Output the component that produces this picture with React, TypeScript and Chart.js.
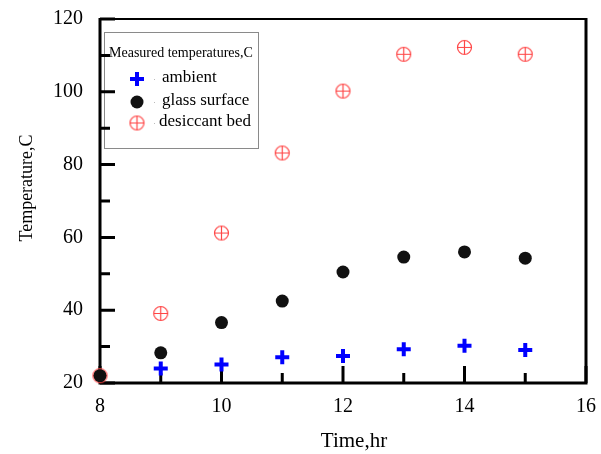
import { useEffect, useRef } from "react";
import { Chart, registerables } from "chart.js";

Chart.register(...registerables);

// ---- data ----
const hours = [8, 9, 10, 11, 12, 13, 14, 15];
const ambient = [null, 24.0, 25.1, 27.1, 27.4, 29.3, 30.2, 29.1];
const glassSurface = [22.0, 28.3, 36.6, 42.5, 50.5, 54.6, 56.0, 54.3];
const desiccantBed = [22.0, 39.1, 61.2, 83.2, 100.2, 110.3, 112.2, 110.3];

const seriesNames = ["ambient", "glass surface", "desiccant bed"];
const legendTitle = "Measured temperatures,C";
const xTitle = "Time,hr";
const yTitle = "Temperature,C";

const xMajorTicks = [8, 10, 12, 14, 16];
const xMinorTicks = [9, 11, 13, 15];
const yMajorTicks = [20, 40, 60, 80, 100, 120];
const yMinorTicks = [30, 50, 70, 90, 110];

const FONT = "'Liberation Serif', 'Times New Roman', serif";
const BLUE = "#0000ff";
const BLACK = "#111111";
const RED = "#ff4545";

function toPoints(values: (number | null)[]) {
  return hours.map((h, i) => ({ x: h, y: values[i] }));
}

function makeCrossCircle(): HTMLCanvasElement {
  const c = document.createElement("canvas");
  c.width = 17;
  c.height = 17;
  const g = c.getContext("2d")!;
  g.strokeStyle = RED;
  g.lineWidth = 1.2;
  g.beginPath();
  g.arc(8.5, 8.5, 7, 0, Math.PI * 2);
  g.moveTo(1.5, 8.5);
  g.lineTo(15.5, 8.5);
  g.moveTo(8.5, 1.5);
  g.lineTo(8.5, 15.5);
  g.stroke();
  return c;
}

function zeroPadding(s: any) {
  s.paddingTop = 0;
  s.paddingBottom = 0;
  s.paddingLeft = 0;
  s.paddingRight = 0;
}

export default function App() {
  const ref = useRef<HTMLCanvasElement | null>(null);

  useEffect(() => {
    document.body.style.margin = "0";
    const canvas = ref.current;
    if (!canvas) return;
    const crossCircle = makeCrossCircle();

    const framePlugin = {
      id: "frame",
      beforeDatasetsDraw(chart: any) {
        const { ctx, chartArea } = chart;
        const { left, right, top, bottom } = chartArea;
        const x = chart.scales.x;
        const y = chart.scales.y;
        ctx.save();

        // axis titles
        ctx.fillStyle = "#000";
        ctx.textAlign = "center";
        ctx.textBaseline = "middle";
        ctx.font = `21px ${FONT}`;
        ctx.fillText(xTitle, 354, 441);
        ctx.save();
        ctx.translate(27, 188);
        ctx.rotate(-Math.PI / 2);
        ctx.font = `18px ${FONT}`;
        ctx.fillText(yTitle, 0, 0);
        ctx.restore();

        // legend box
        ctx.strokeStyle = "#8a8a8a";
        ctx.lineWidth = 1;
        ctx.strokeRect(104.5, 32.5, 154, 116);
        ctx.fillStyle = "#000";
        ctx.font = `14px ${FONT}`;
        ctx.textBaseline = "middle";
        ctx.textAlign = "left";
        ctx.fillText(legendTitle, 109, 53);
        ctx.font = `17px ${FONT}`;
        const rows = [79, 102, 123];
        const mx = 137;
        // ambient marker
        ctx.strokeStyle = BLUE;
        ctx.lineWidth = 4;
        ctx.beginPath();
        ctx.moveTo(mx - 7, rows[0]);
        ctx.lineTo(mx + 7, rows[0]);
        ctx.moveTo(mx, rows[0] - 7);
        ctx.lineTo(mx, rows[0] + 7);
        ctx.stroke();
        // glass marker
        ctx.fillStyle = BLACK;
        ctx.beginPath();
        ctx.arc(mx, rows[1], 6.5, 0, Math.PI * 2);
        ctx.fill();
        // desiccant marker
        ctx.drawImage(crossCircle, mx - 8.5, rows[2] - 8.5);
        rows.forEach((ry, i) => {
          ctx.fillStyle = "#bbb";
          ctx.fillRect(154, ry, 1, 1);
          ctx.fillStyle = "#000";
          ctx.fillText(seriesNames[i], i === 2 ? 159 : 162, ry - 1);
        });

        // frame
        ctx.strokeStyle = "#000";
        ctx.lineWidth = 2;
        ctx.beginPath();
        ctx.moveTo(left, top);
        ctx.lineTo(right, top);
        ctx.stroke();
        ctx.lineWidth = 3;
        ctx.beginPath();
        ctx.moveTo(right, top - 1);
        ctx.lineTo(right, bottom);
        ctx.lineTo(left, bottom);
        ctx.lineTo(left, top - 1);
        ctx.stroke();

        // inward ticks
        ctx.lineWidth = 3;
        ctx.beginPath();
        xMajorTicks.forEach((v) => {
          const px = x.getPixelForValue(v);
          ctx.moveTo(px, bottom);
          ctx.lineTo(px, bottom - 17);
        });
        xMinorTicks.forEach((v) => {
          const px = x.getPixelForValue(v);
          ctx.moveTo(px, bottom);
          ctx.lineTo(px, bottom - 10);
        });
        yMajorTicks.forEach((v) => {
          const py = y.getPixelForValue(v);
          ctx.moveTo(left, py);
          ctx.lineTo(left + 15, py);
        });
        yMinorTicks.forEach((v) => {
          const py = y.getPixelForValue(v);
          ctx.moveTo(left, py);
          ctx.lineTo(left + 10, py);
        });
        ctx.stroke();
        ctx.restore();
      },
    };

    const chart = new Chart(canvas, {
      type: "scatter",
      data: {
        datasets: [
          {
            label: seriesNames[0],
            data: toPoints(ambient) as any,
            pointStyle: "cross",
            pointRadius: 7,
            pointHoverRadius: 7,
            borderColor: BLUE,
            backgroundColor: BLUE,
            pointBorderWidth: 4,
            showLine: false,
            clip: false,
            order: 2,
          } as any,
          {
            label: seriesNames[1],
            data: toPoints(glassSurface) as any,
            pointStyle: "circle",
            pointRadius: 6.5,
            pointHoverRadius: 6.5,
            borderColor: BLACK,
            backgroundColor: BLACK,
            pointBorderWidth: 0,
            showLine: false,
            clip: false,
            order: 0,
          } as any,
          {
            label: seriesNames[2],
            data: toPoints(desiccantBed) as any,
            pointStyle: crossCircle,
            pointRadius: 8,
            borderColor: RED,
            backgroundColor: RED,
            showLine: false,
            clip: false,
            order: 1,
          } as any,
        ],
      },
      options: {
        animation: false,
        responsive: false,
        events: [],
        layout: { padding: { top: 19, right: 15, left: 0, bottom: 0 } },
        plugins: {
          legend: { display: false },
          tooltip: { enabled: false },
        },
        scales: {
          x: {
            type: "linear",
            min: 8,
            max: 16,
            grid: { display: false, drawTicks: false },
            border: { display: false },
            ticks: {
              stepSize: 2,
              color: "#000",
              padding: 12,
              font: { family: FONT, size: 20 },
            },
            title: { display: false },
            afterFit: (s: any) => {
              s.height = 71;
              zeroPadding(s);
            },
          },
          y: {
            type: "linear",
            min: 20,
            max: 120,
            grid: { display: false, drawTicks: false },
            border: { display: false },
            ticks: {
              stepSize: 20,
              color: "#000",
              padding: 17,
              font: { family: FONT, size: 20 },
            },
            title: { display: false },
            afterFit: (s: any) => {
              s.width = 100;
              zeroPadding(s);
            },
          },
        },
      },
      plugins: [framePlugin],
    });

    return () => chart.destroy();
  }, []);

  return (
    <div style={{ width: 601, height: 454 }}>
      <canvas ref={ref} width={601} height={454} style={{ display: "block" }} />
    </div>
  );
}
